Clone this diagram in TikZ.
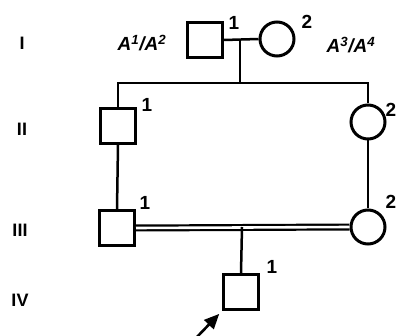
\documentclass[tikz,border=0pt]{standalone}
\usepackage{fontspec}
\setmainfont{Liberation Sans}
\usetikzlibrary{arrows.meta}
\tikzset{
  male/.style={draw, line width=3pt, minimum size=35pt, inner sep=0pt},
  female/.style={draw, circle, line width=3pt, minimum size=34pt, inner sep=0pt},
  line/.style={line width=2.5pt},
  num/.style={font=\fontsize{19}{19}\selectfont\bfseries, inner sep=0pt},
  gen/.style={font=\fontsize{18}{18}\selectfont\bfseries, inner sep=0pt},
  geno/.style={font=\fontsize{19}{19}\selectfont\bfseries\itshape, inner sep=0pt}
}
\begin{document}
\begin{tikzpicture}[x=1pt, y=-1pt]
        \useasboundingbox (0,0) rectangle (398,336);
        % generation numbers
        \node[gen] (gI) at (22,43) {I};
        \node[gen] (gII) at (22,129) {II};
        \node[gen] (gIII) at (20,230) {III};
        \node[gen] (gIV) at (20,300) {IV};
        % individuals
        \node[male] (I1) at (205,40) {};
        \node[female] (I2) at (277,39) {};
        \node[male] (II1) at (118,126) {};
        \node[female] (II2) at (368,122) {};
        \node[male] (III1) at (117,228) {};
        \node[female] (III2) at (368,227) {};
        \node[male] (IV1) at (241,292) {};
        % numbers
        \node[num] (nI1) at (234,23) {1};
        \node[num] (nI2) at (307,22) {2};
        \node[num] (nII1) at (147,105) {1};
        \node[num] (nII2) at (391,110) {2};
        \node[num] (nIII1) at (145,203) {1};
        \node[num] (nIII2) at (391,202) {2};
        \node[num] (nIV1) at (272,267) {1};
        % genotypes
        \node[geno] (gtI1) at (142,43) {A\textsuperscript{1}/A\textsuperscript{2}};
        \node[geno] (gtI2) at (351,45) {A\textsuperscript{3}/A\textsuperscript{4}};
        % lines
        \coordinate (m1) at (240,39);
        \coordinate (s1) at (240,83);
        \coordinate (s1l) at (117,83);
        \coordinate (s1r) at (368,83);
        \draw[line] (I1.east) -- (I2.west);
        \draw[line] (m1) -- (s1);
        \draw[line] (II1.north) |- (s1l) -- (s1r) -- (II2.north);
        \draw[line] (II1.south) -- (III1.north);
        \draw[line] (II2.south) -- (III2.north);
        \draw[line width=2.2pt, double, double distance=2.6pt] (III1.east) -- (III2.west);
        \coordinate (m2) at (242,227);
        \draw[line] (m2) -- (IV1.north);
        % proband arrow
        \coordinate (tail) at (196,338);
        \draw[line width=2.6pt, -{Triangle[length=15pt, width=13pt]}, shorten >=4pt] (tail) -- (IV1.south west);
    \end{tikzpicture}
\end{document}
